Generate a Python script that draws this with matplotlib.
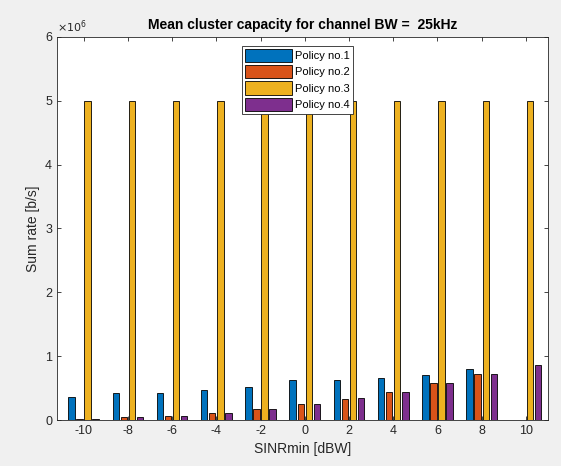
import matplotlib
matplotlib.use("Agg")
import matplotlib.pyplot as plt
import numpy as np
from matplotlib.ticker import FuncFormatter

plt.rcParams['font.family'] = ['Liberation Sans', 'DejaVu Sans']
plt.rcParams['axes.unicode_minus'] = False

sinr = [-10, -8, -6, -4, -2, 0, 2, 4, 6, 8, 10]
policy1 = [0.355e6, 0.43e6, 0.43e6, 0.47e6, 0.51e6, 0.63e6, 0.62e6, 0.665e6, 0.71e6, 0.805e6, 0.0]
policy2 = [0.015e6, 0.05e6, 0.07e6, 0.115e6, 0.18e6, 0.245e6, 0.335e6, 0.44e6, 0.585e6, 0.72e6, 0.0]
policy3 = [5e6] * 11
policy4 = [0.015e6, 0.05e6, 0.07e6, 0.115e6, 0.18e6, 0.245e6, 0.34e6, 0.44e6, 0.585e6, 0.72e6, 0.867e6]
labels = ['Policy no.1', 'Policy no.2', 'Policy no.3', 'Policy no.4']
colors = ['#0072BD', '#D95319', '#EDB120', '#7E2F8E']

fig = plt.figure(figsize=(5.61, 4.66), dpi=100, facecolor='#f0f0f0')
ax = fig.add_axes([0.1016, 0.0987, 0.8754, 0.822])
ax.set_facecolor('white')

x = np.array(sinr, dtype=float)
spacing = 2.0
group_w = spacing * min(0.8, 4 / (4 + 1.5))
step = group_w / 4
bw = 0.8 * step
series = [policy1, policy2, policy3, policy4]
for i, (vals, lab, c) in enumerate(zip(series, labels, colors)):
    ax.bar(x + (i - 1.5) * step, vals, width=bw, color=c, edgecolor='black',
           linewidth=0.6, label=lab)

ax.set_xlim(-11.2, 11.0)
ax.set_ylim(0, 6e6)
ax.set_xticks(sinr)
ax.set_yticks(np.arange(0, 7e6, 1e6))
ax.yaxis.set_major_formatter(FuncFormatter(lambda v, p: f"{v/1e6:g}"))
ax.tick_params(direction='in', top=True, right=True, length=3, width=0.6,
               labelsize=9, colors='#262626')
for s in ax.spines.values():
    s.set_linewidth(0.6)
    s.set_color('#262626')

ax.set_title('Mean cluster capacity for channel BW =  25kHz', fontsize=10,
             fontweight='bold', pad=6)
ax.set_xlabel('SINRmin [dBW]', fontsize=10, color='#262626')
ax.set_ylabel('Sum rate [b/s]', fontsize=10, color='#262626')
ax.text(0.0, 1.005, r'$\times10^6$', transform=ax.transAxes, fontsize=8,
        color='#262626', ha='left', va='bottom')

leg = ax.legend(loc='upper center', bbox_to_anchor=(0.49, 0.977), fontsize=8,
                fancybox=False, framealpha=1, edgecolor='#262626',
                handlelength=4.2, handleheight=1.5, borderpad=0.25,
                labelspacing=0.25, handletextpad=0.3, borderaxespad=0)
leg.get_frame().set_linewidth(0.6)

fig.savefig('out.png', dpi=100, facecolor=fig.get_facecolor())
